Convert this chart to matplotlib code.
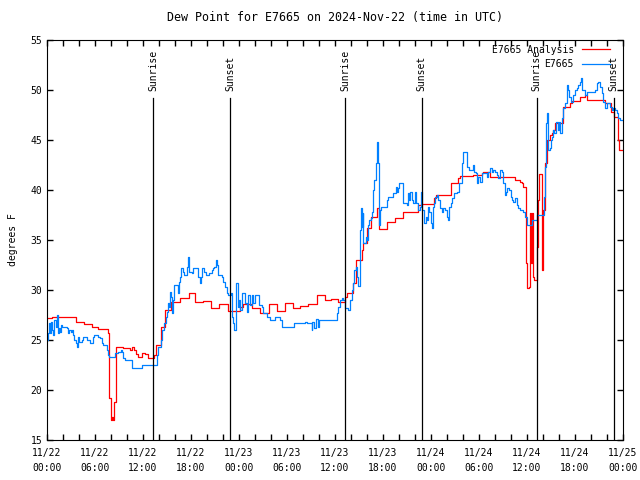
import numpy as np
import pandas as pd
import matplotlib
matplotlib.use("Agg")
import matplotlib.pyplot as plt
import matplotlib.dates as mdates

# hours after 2024-11-22 00:00 UTC, values in deg F
obs_hours = [0.0, 0.1, 0.25, 0.38, 0.5, 0.67, 0.79, 0.92, 1.08, 1.21, 1.33, 1.5, 1.62, 1.75, 1.92,
             2.46, 2.58, 2.75, 3.0, 3.17, 3.29, 3.42, 3.58, 3.71, 3.83, 4.0, 4.33, 4.54, 4.96, 5.38,
             5.79, 5.92, 6.42, 6.62, 6.83, 7.04, 7.46, 7.67, 7.75, 8.5, 8.9, 9.25, 9.42, 9.54, 9.75,
             10.58, 10.67, 11.9, 13.7, 13.9, 14.2, 14.42, 14.67, 14.83, 14.96, 15.08, 15.25, 15.38,
             15.5, 15.67, 15.79, 15.92, 16.33, 16.5, 16.62, 16.75, 17.04, 17.17, 17.46, 17.58, 17.67,
             17.79, 18.17, 18.29, 18.92, 19.12, 19.25, 19.42, 19.67, 19.83, 20.25, 20.67, 20.79,
             20.92, 21.08, 21.21, 21.42, 21.83, 22.04, 22.25, 22.46, 22.67, 23.0, 23.17, 23.29,
             23.42, 23.58, 23.83, 24.0, 24.12, 24.33, 24.75, 24.96, 25.17, 25.38, 25.58, 25.79,
             26.0, 26.5, 26.83, 27.04, 27.46, 27.88, 28.5, 29.12, 29.33, 30.92, 32.25, 32.46, 33.08,
             33.17, 33.42, 33.58, 33.83, 34.0, 36.21, 36.42, 36.62, 36.92, 37.04, 37.25, 37.58,
             37.88, 38.08, 38.29, 38.42, 38.58, 38.71, 38.83, 39.12, 39.25, 39.33, 39.46, 39.54,
             39.83, 39.96, 40.08, 40.29, 40.5, 40.58, 40.79, 40.92, 41.08, 41.21, 41.29, 41.42,
             41.5, 41.62, 41.75, 42.46, 42.67, 43.29, 43.58, 43.71, 43.83, 44.04, 44.46, 44.54,
             44.96, 45.08, 45.25, 45.38, 45.58, 45.79, 46.0, 46.12, 46.33, 46.62, 46.75, 46.92,
             47.12, 47.38, 47.54, 47.67, 47.79, 47.96, 48.08, 48.21, 48.38, 48.5, 48.79, 48.92,
             49.12, 49.33, 49.54, 49.75, 49.96, 50.08, 50.29, 50.46, 50.67, 50.88, 51.21, 51.54,
             51.83, 52.04, 52.46, 52.79, 53.21, 53.42, 53.58, 53.71, 53.92, 54.12, 54.33, 54.96,
             55.17, 55.38, 55.58, 55.79, 56.0, 56.21, 56.42, 56.62, 56.83, 57.04, 57.25, 57.38,
             57.54, 57.79, 57.96, 58.08, 58.29, 58.5, 58.71, 58.92, 59.12, 59.54, 59.75, 59.96,
             60.58, 61.21, 62.17, 62.25, 62.38, 62.5, 62.67, 62.88, 63.0, 63.17, 63.29, 63.42,
             63.58, 63.92, 64.0, 64.12, 64.33, 64.54, 64.75, 64.96, 65.08, 65.25, 65.5, 65.79,
             66.0, 66.21, 66.42, 66.62, 66.75, 66.92, 67.25, 67.46, 68.5, 68.71, 68.92, 69.12,
             69.33, 69.54, 69.75, 69.96, 70.38, 70.58, 70.79, 71.0, 71.21, 71.42, 71.67, 72.0]
obs_vals = [25.0, 25.7, 26.7, 25.7, 26.8, 26.0, 25.5, 27.0, 26.3, 27.5, 25.7, 26.2, 25.8, 26.5, 26.3,
            26.2, 25.7, 26.0, 25.8, 26.0, 25.5, 25.0, 24.7, 24.3, 25.3, 24.8, 25.0, 25.3, 25.0, 24.7,
            25.3, 25.5, 25.3, 25.2, 24.7, 24.5, 24.0, 23.5, 23.3, 23.7, 23.8, 24.0, 23.8, 23.2, 23.0,
            22.5, 22.2, 22.5, 23.5, 24.3, 25.0, 26.0, 26.7, 27.3, 27.8, 28.7, 28.3, 29.8,
            29.3, 27.7, 29.0, 30.5, 29.7, 30.8, 31.3, 32.2, 31.8, 31.5, 32.3, 32.8, 33.3,
            31.8, 31.7, 32.2, 31.3, 30.7, 31.3, 32.2, 31.8, 31.5, 31.7, 32.0, 32.2,
            32.3, 33.0, 32.5, 31.5, 31.3, 30.8, 30.3, 29.7, 29.5, 29.7, 27.3, 26.7,
            26.0, 30.7, 28.3, 29.0, 28.0, 29.7, 28.7, 27.8, 29.5, 28.5, 29.5, 28.7,
            29.5, 28.5, 28.3, 27.7, 27.3, 27.0, 27.3, 27.0, 26.3, 26.7, 26.8, 26.7, 26.0,
            26.8, 26.2, 27.1, 26.3, 27.0, 27.7, 28.3, 29.0, 29.2, 29.0, 28.2, 28.0,
            29.0, 30.0, 30.7, 32.0, 32.3, 31.3, 30.4, 36.0, 38.2, 36.3, 37.7, 34.7,
            35.3, 35.0, 36.5, 37.0, 37.2, 37.8, 40.0, 41.0, 42.7, 43.8, 44.8, 42.7,
            36.5, 38.0, 38.3, 39.0, 39.3, 39.7, 40.3, 39.8, 40.2, 40.7, 40.0, 38.7,
            38.5, 39.7, 39.0, 39.8, 39.0, 38.7, 39.8, 38.7, 38.0, 38.3, 39.8, 38.0,
            36.7, 37.3, 37.0, 38.3, 37.8, 36.7, 36.2, 38.3, 38.7, 39.3, 39.5, 39.0,
            38.2, 37.8, 38.2, 38.0, 37.3, 37.0, 38.3, 38.7, 39.2, 39.7, 39.8, 40.7,
            42.7, 43.8, 42.3, 42.0, 42.5, 41.8, 41.7, 40.7, 41.3, 40.8, 41.7, 41.3,
            41.8, 42.2, 41.8, 42.0, 41.8, 41.5, 41.2, 42.0, 41.8, 40.7, 39.5, 39.8,
            40.2, 40.0, 39.3, 39.0, 38.8, 39.2, 38.5, 38.2, 38.0, 37.8, 37.3, 36.5,
            37.0, 37.5, 39.3, 42.3, 46.7, 47.7, 44.0, 44.2, 45.0, 45.3, 46.0, 45.7,
            46.8, 46.0, 46.8, 45.7, 47.2, 48.2, 48.7, 50.5, 50.0, 49.3, 48.8, 49.5,
            50.0, 50.2, 50.5, 50.8, 51.2, 50.0, 49.5, 49.8, 50.0, 50.7, 50.8, 50.3,
            49.7, 48.8, 48.2, 48.7, 48.3, 48.0, 48.2, 48.0, 47.7, 47.2, 47.0, 47.0]

ana_hours = [0.0, 0.58, 3.58, 4.67, 5.58, 6.33, 7.58, 7.75, 7.96, 8.08, 8.21, 8.42, 8.58, 9.54,
             10.38, 10.67, 10.92, 11.08, 11.33, 11.92, 12.25, 12.58, 13.42, 13.6, 14.3, 14.7,
             15.5, 16.6, 17.7, 18.5, 19.5, 20.5, 21.5, 22.6, 24.1, 24.5, 25.6, 26.6, 27.7, 28.7,
             29.7, 30.7, 31.6, 32.6, 33.7, 34.7, 35.5, 36.4, 37.25, 37.46, 38.29, 38.58, 39.33,
             39.54, 40.04, 40.5, 41.21, 41.54, 42.46, 43.5, 44.54, 46.42, 46.71, 48.38, 48.62,
             50.5, 51.42, 51.62, 53.29, 54.33, 54.54, 55.38, 58.5, 59.12, 59.33, 59.54, 59.83,
             60.04, 60.25, 60.38, 60.5, 60.58, 60.79, 60.92, 61.29, 61.42, 61.5, 61.83, 61.92,
             62.04, 62.25, 62.46, 62.88, 63.17, 63.29, 63.5, 64.54, 65.38, 65.58, 66.62, 67.25,
             67.46, 69.75, 70.5, 70.92, 71.33, 71.5, 72.0]
ana_vals = [27.2, 27.3, 26.8, 26.6, 26.3, 26.1, 25.7, 19.2, 17.0, 17.3, 17.0, 18.8, 24.3, 24.2,
            24.0, 24.3, 24.0, 23.6, 23.3, 23.7, 23.6, 23.2, 23.5, 24.5, 26.3, 28.0,
            28.8, 29.2, 29.7, 28.8, 28.9, 28.2, 28.6, 27.9, 28.3, 28.6, 28.2, 27.7, 28.6, 27.9,
            28.7, 28.2, 28.4, 28.6, 29.5, 29.0, 29.1, 28.8, 29.3, 29.7, 30.7, 33.0, 34.0,
            34.7, 36.2, 37.3, 38.2, 36.1, 36.8, 37.2, 37.8, 38.5, 38.6, 39.2, 39.5,
            40.7, 41.2, 41.4, 41.5, 41.7, 41.8, 41.3, 41.0, 40.8, 40.7, 40.3, 32.7,
            30.2, 30.3, 37.7, 32.7, 37.7, 31.3, 31.0, 34.3, 39.0, 41.6, 34.0, 32.0,
            38.0, 42.7, 45.0, 45.5, 45.7, 46.0, 46.7, 48.3, 48.7, 48.9, 49.3, 49.5,
            49.0, 48.7, 47.8, 47.3, 45.0, 44.0, 44.0]

sun_hours = [13.28, 22.92, 37.27, 46.85, 61.2, 70.85]
sun_labels = ["Sunrise", "Sunset", "Sunrise", "Sunset", "Sunrise", "Sunset"]

start = pd.Timestamp("2024-11-22 00:00")
obs_t = start + pd.to_timedelta(obs_hours, unit="h")
ana_t = start + pd.to_timedelta(ana_hours, unit="h")
sun_t = start + pd.to_timedelta(sun_hours, unit="h")

plt.rcParams["font.family"] = ["DejaVu Sans Mono"]
plt.rcParams["font.size"] = 7

fig = plt.figure(figsize=(6.4, 4.8), dpi=100)
ax = fig.add_axes([47/640, 40/480, 576/640, 400/480])

ax.plot(ana_t, ana_vals, color="#ff0000", lw=0.9, drawstyle="steps-post", label="E7665 Analysis")
ax.plot(obs_t, obs_vals, color="#0080ff", lw=0.9, drawstyle="steps-post", label="E7665")

# sunrise / sunset markers
for t, lab in zip(sun_t, sun_labels):
    ax.plot([t, t], [15, 49.2], color="black", lw=0.9)
    ax.text(t, 49.9, lab, rotation=90, ha="center", va="bottom")

ax.set_xlim(start, start + pd.Timedelta(hours=72))
ax.set_ylim(15, 55)
ax.set_yticks(np.arange(15, 56, 5))
ax.xaxis.set_major_locator(mdates.HourLocator(byhour=[0, 6, 12, 18]))
ax.xaxis.set_minor_locator(mdates.HourLocator(interval=2))
ax.xaxis.set_major_formatter(mdates.DateFormatter("%m/%d\n%H:%M"))
ax.tick_params(which="both", direction="in", top=True, right=True, length=4, width=1)
ax.tick_params(axis="x", pad=6)
for lbl in ax.get_xticklabels():
    lbl.set_linespacing(1.6)

ax.set_title("Dew Point for E7665 on 2024-Nov-22 (time in UTC)", pad=14)
ax.set_ylabel("degrees F", labelpad=9)

ax.legend(loc="upper right", bbox_to_anchor=(0.977, 0.988), markerfirst=False, frameon=False,
          handlelength=2.9, handletextpad=0.8, labelspacing=0.45, borderpad=0, borderaxespad=0)

fig.savefig("out.png", dpi=100)
